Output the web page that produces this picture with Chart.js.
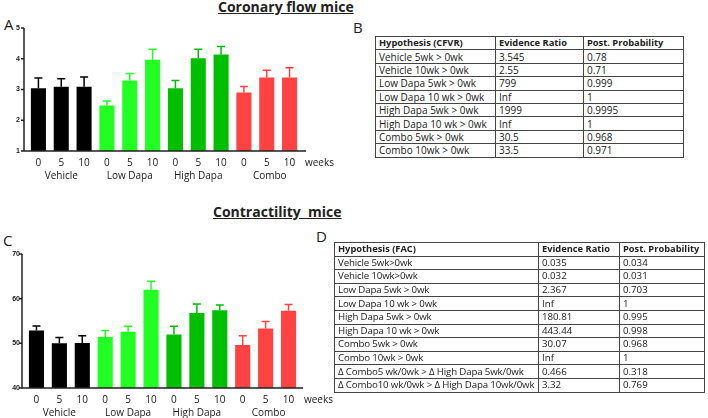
<!DOCTYPE html>
<html>
<head>
<meta charset="utf-8">
<script src="https://cdn.jsdelivr.net/npm/chart.js@4.4.1/dist/chart.umd.min.js"></script>
<style>
  body { margin: 0; width: 708px; height: 418px; background: #fff; position: relative; overflow: hidden; font-family: "Open Sans", sans-serif; color: #222; }
  .abs { position: absolute; }
  .title { font-weight: bold; font-size: 14px; text-decoration: underline; line-height: 16px; white-space: pre; }
  .panel { font-size: 15px; line-height: 18px; }
  table { border-collapse: collapse; table-layout: fixed; border: 1.5px solid #333; }
  td { border: 1px solid #444; font-size: 10px; line-height: 12px; height: 12px; padding: 0 3px; white-space: nowrap; overflow: hidden; }
  tr.head td { font-weight: bold; font-size: 9.3px; }
  #tableD td { font-size: 9.7px; }
  #tableD td:first-child { letter-spacing: -0.15px; }
  #tableD tr.head td { font-size: 9.3px; letter-spacing: 0; }
</style>
</head>
<body>
<div class="abs title" style="left:218px; top:-1px;">Coronary flow mice</div>
<div class="abs panel" style="left:4px; top:15px;">A</div>
<div class="abs panel" style="left:353px; top:18px;">B</div>
<canvas id="chartA" class="abs" style="left:0; top:0;" width="345" height="190"></canvas>
<div id="tableB" class="abs" style="left:375px; top:36px;"></div>

<div class="abs title" style="left:213px; top:204px;">Contractility  mice</div>
<div class="abs panel" style="left:3px; top:231px;">C</div>
<div class="abs panel" style="left:316px; top:227px;">D</div>
<canvas id="chartC" class="abs" style="left:0; top:235px;" width="345" height="183"></canvas>
<div id="tableD" class="abs" style="left:334px; top:242px;"></div>

<script>
const weeks = ['0', '5', '10', '0', '5', '10', '0', '5', '10', '0', '5', '10']
const groups = ['Vehicle', 'Low Dapa', 'High Dapa', 'Combo']
const barColors = ['#000000', '#000000', '#000000',
  '#22ff22', '#22ff22', '#22ff22',
  '#00bf00', '#00bf00', '#00bf00',
  '#ff4242', '#ff4242', '#ff4242']

const coronaryMean = [3.04, 3.09, 3.09, 2.48, 3.29, 3.97, 3.04, 4.02, 4.14, 2.90, 3.39, 3.39]
const coronarySem = [0.33, 0.26, 0.32, 0.15, 0.23, 0.34, 0.25, 0.29, 0.26, 0.20, 0.24, 0.32]
const coronaryTicks = [1, 2, 3, 4, 5]

const contractMean = [52.9, 50.0, 50.1, 51.4, 52.6, 62.0, 52.0, 56.8, 57.4, 49.6, 53.3, 57.3]
const contractSem = [1.0, 1.3, 1.6, 1.5, 1.2, 1.9, 1.8, 2.0, 1.2, 2.1, 1.6, 1.4]
const contractTicks = [40, 50, 60, 70]

const tableBHeader = ['Hypothesis (CFVR)', 'Evidence Ratio', 'Post. Probability']
const tableBRows = [
  ['Vehicle 5wk > 0wk', '3.545', '0.78'],
  ['Vehicle 10wk > 0wk', '2.55', '0.71'],
  ['Low Dapa 5wk > 0wk', '799', '0.999'],
  ['Low Dapa 10 wk > 0wk', 'Inf', '1'],
  ['High Dapa 5wk > 0wk', '1999', '0.9995'],
  ['High Dapa 10 wk > 0wk', 'Inf', '1'],
  ['Combo 5wk > 0wk', '30.5', '0.968'],
  ['Combo 10wk > 0wk', '33.5', '0.971']
]
const tableDHeader = ['Hypothesis (FAC)', 'Evidence Ratio', 'Post. Probability']
const tableDRows = [
  ['Vehicle 5wk>0wk', '0.035', '0.034'],
  ['Vehicle 10wk>0wk', '0.032', '0.031'],
  ['Low Dapa 5wk > 0wk', '2.367', '0.703'],
  ['Low Dapa 10 wk > 0wk', 'Inf', '1'],
  ['High Dapa 5wk > 0wk', '180.81', '0.995'],
  ['High Dapa 10 wk > 0wk', '443.44', '0.998'],
  ['Combo 5wk > 0wk', '30.07', '0.968'],
  ['Combo 10wk > 0wk', 'Inf', '1'],
  ['\u0394 Combo5 wk/0wk > \u0394 High Dapa 5wk/0wk', '0.466', '0.318'],
  ['\u0394 Combo10 wk/0wk > \u0394 High Dapa 10wk/0wk', '3.32', '0.769']
]

function buildTable(container, header, rows, widths, rowH) {
  const table = document.createElement('table')
  table.style.width = widths.reduce((a, b) => a + b, 0) + 'px'
  const cg = document.createElement('colgroup')
  widths.forEach(w => {
    const c = document.createElement('col')
    c.style.width = w + 'px'
    cg.appendChild(c)
  })
  table.appendChild(cg)
  const all = [header].concat(rows)
  all.forEach((r, i) => {
    const tr = table.insertRow()
    if (i == 0) tr.classList.add('head')
    tr.style.height = rowH + 'px'
    r.forEach(txt => {
      const td = tr.insertCell()
      td.textContent = txt
    })
  })
  container.appendChild(table)
}

buildTable(document.getElementById('tableB'), tableBHeader, tableBRows, [120, 88, 100], 13.4)
buildTable(document.getElementById('tableD'), tableDHeader, tableDRows, [204, 81, 85], 13.6)

// error bars, axis lines, group names
const decor = {
  id: 'decor',
  afterDatasetsDraw(chart, args, opts) {
    const ctx = chart.ctx
    const y = chart.scales.y
    const a = chart.chartArea
    const meta = chart.getDatasetMeta(0)
    const mean = chart.data.datasets[0].data
    ctx.save()
    ctx.lineWidth = 1.5
    meta.data.forEach((bar, i) => {
      const top = y.getPixelForValue(mean[i] + opts.sem[i])
      ctx.strokeStyle = barColors[i]
      ctx.beginPath()
      ctx.moveTo(bar.x, bar.y)
      ctx.lineTo(bar.x, top)
      ctx.moveTo(bar.x - 4, top)
      ctx.lineTo(bar.x + 4, top)
      ctx.stroke()
    })
    const ax = a.left - opts.axisGap
    ctx.strokeStyle = '#222'
    ctx.beginPath()
    ctx.moveTo(ax, a.top)
    ctx.lineTo(ax, a.bottom)
    ctx.lineTo(a.right + opts.axisExtra, a.bottom)
    opts.ticks.forEach(t => {
      const py = y.getPixelForValue(t)
      ctx.moveTo(ax - 3, py)
      ctx.lineTo(ax, py)
    })
    ctx.stroke()
    ctx.fillStyle = '#222'
    ctx.font = '10px "Open Sans"'
    ctx.textAlign = 'center'
    ctx.textBaseline = 'middle'
    groups.forEach((g, i) => {
      const mid = meta.data[i * 3 + 1]
      ctx.fillText(g, mid.x + (i == 3 ? 3 : 0), a.bottom + 25)
    })
    ctx.textAlign = 'left'
    ctx.fillText('weeks', a.right + 4, a.bottom + 12)
    ctx.restore()
  }
}

function makeChart(id, mean, sem, ticks, yMin, yMax, yWidth, xHeight, padTop, padRight, axisGap, axisExtra, labelPad) {
  return new Chart(id, {
    type: 'bar',
    data: {
      labels: weeks,
      datasets: [{
        data: mean,
        backgroundColor: barColors,
        borderWidth: 0,
        barPercentage: 0.66,
        categoryPercentage: 1
      }]
    },
    options: {
      responsive: false,
      animation: false,
      devicePixelRatio: 1,
      layout: { padding: { top: padTop, right: padRight, left: 0, bottom: 0 } },
      plugins: {
        legend: { display: false },
        tooltip: { enabled: false },
        decor: { sem: sem, ticks: ticks, axisGap: axisGap, axisExtra: axisExtra }
      },
      scales: {
        x: {
          grid: { display: false, drawTicks: false },
          border: { display: false },
          ticks: { color: '#222', font: { family: 'Open Sans', size: 10 }, padding: 6, maxRotation: 0, autoSkip: false },
          afterFit: s => { s.height = xHeight }
        },
        y: {
          min: yMin,
          max: yMax,
          grid: { display: false, drawTicks: false },
          border: { display: false },
          afterBuildTicks: s => { s.ticks = ticks.map(v => ({ value: v })) },
          ticks: { color: '#222', font: { family: 'Liberation Sans', size: 7, weight: 'bold' }, padding: labelPad },
          afterFit: s => { s.width = yWidth }
        }
      }
    },
    plugins: [decor]
  })
}

makeChart('chartA', coronaryMean, coronarySem, coronaryTicks, 1, 5, 27, 39, 28, 44, 3, 5, 7)
makeChart('chartC', contractMean, contractSem, contractTicks, 40, 70, 25, 30, 19, 45, 3, 3, 5)
</script>
</body>
</html>
